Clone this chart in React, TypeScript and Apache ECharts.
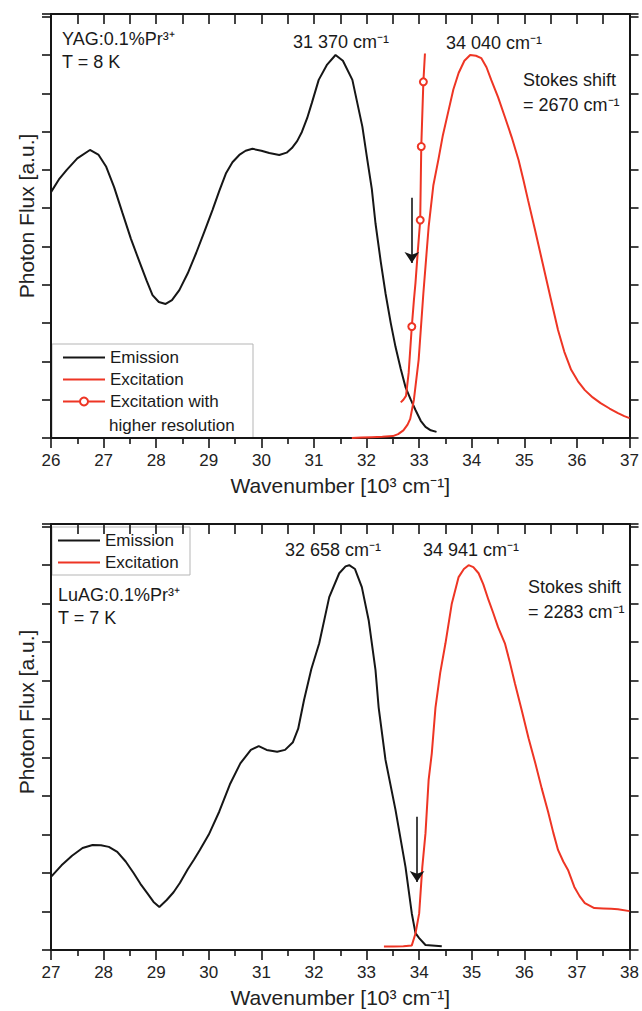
import React, { useEffect, useRef } from 'react';
import * as echarts from 'echarts';

const FONT = '"Liberation Sans", Arial, Helvetica, sans-serif';
const INK = '#161616';
const RED = '#ee3524';

// ---------- Top panel: YAG:0.1%Pr3+ (T = 8 K) ----------
const yagRange = [26, 37];
const yagEmission: number[][] = [
  [26.0, 6.42], [26.15, 6.75], [26.3, 7.0], [26.5, 7.3], [26.74, 7.52], [26.9, 7.4],
  [27.05, 7.08], [27.2, 6.55], [27.36, 5.87], [27.52, 5.2], [27.69, 4.57], [27.82, 4.1],
  [27.93, 3.73], [28.05, 3.55], [28.18, 3.5], [28.3, 3.6], [28.44, 3.86], [28.6, 4.3],
  [28.76, 4.83], [28.92, 5.4], [29.07, 5.95], [29.2, 6.45], [29.33, 6.92], [29.45, 7.2],
  [29.58, 7.39], [29.7, 7.5], [29.83, 7.55], [30.0, 7.5], [30.15, 7.44], [30.34, 7.39],
  [30.48, 7.45], [30.58, 7.57], [30.68, 7.75], [30.77, 7.99], [30.87, 8.35], [30.96, 8.75],
  [31.09, 9.35], [31.25, 9.75], [31.41, 10.0], [31.55, 9.85], [31.73, 9.35], [31.92, 8.13],
  [32.01, 7.3], [32.1, 6.5], [32.17, 5.6], [32.27, 4.6], [32.36, 3.78], [32.46, 3.0],
  [32.55, 2.38], [32.65, 1.8], [32.74, 1.33], [32.84, 1.0], [32.93, 0.73], [33.03, 0.45],
  [33.12, 0.29], [33.22, 0.2], [33.33, 0.16],
];
const yagExcitation: number[][] = [
  [31.72, 0.0], [31.9, 0.01], [32.1, 0.02], [32.3, 0.03], [32.5, 0.05], [32.6, 0.1],
  [32.7, 0.2], [32.78, 0.35], [32.83, 0.5], [32.9, 1.0], [32.99, 2.04], [33.08, 3.78],
  [33.18, 5.51], [33.27, 6.6], [33.37, 7.3], [33.45, 7.9], [33.56, 8.56], [33.65, 9.1],
  [33.75, 9.53], [33.86, 9.85], [33.97, 10.0], [34.08, 9.98], [34.18, 9.92], [34.28, 9.68],
  [34.37, 9.35], [34.5, 8.9], [34.63, 8.38], [34.76, 7.85], [34.89, 7.26], [34.98, 6.75],
  [35.07, 6.21], [35.2, 5.45], [35.35, 4.55], [35.5, 3.65], [35.64, 2.82], [35.76, 2.25],
  [35.89, 1.78], [36.02, 1.48], [36.15, 1.25], [36.3, 1.06], [36.45, 0.91], [36.62, 0.77],
  [36.78, 0.65], [36.9, 0.57], [37.0, 0.52],
];
// third value: 1 = point drawn with an open circle
const yagExcitationHiRes: number[][] = [
  [32.65, 0.93, 0], [32.7, 1.0, 0], [32.75, 1.1, 0], [32.8, 1.7, 0], [32.86, 2.91, 1],
  [32.9, 3.6, 0], [32.93, 4.05, 0], [32.97, 4.8, 0], [33.02, 5.69, 1], [33.04, 7.61, 1],
  [33.08, 9.3, 1], [33.11, 10.04, 0],
];
const yagArrow: number[][] = [[32.86, 6.27], [32.86, 4.57]];

// ---------- Bottom panel: LuAG:0.1%Pr3+ (T = 7 K) ----------
const luagRange = [27, 38];
const luagEmission: number[][] = [
  [27.0, 1.9], [27.2, 2.2], [27.4, 2.45], [27.6, 2.65], [27.79, 2.73], [27.95, 2.72],
  [28.1, 2.68], [28.26, 2.55], [28.42, 2.3], [28.57, 2.0], [28.7, 1.72], [28.83, 1.48],
  [28.95, 1.25], [29.06, 1.12], [29.2, 1.3], [29.33, 1.5], [29.45, 1.74], [29.6, 2.1],
  [29.72, 2.35], [29.83, 2.6], [30.0, 3.0], [30.2, 3.6], [30.4, 4.3], [30.6, 4.85],
  [30.8, 5.2], [30.95, 5.3], [31.1, 5.2], [31.3, 5.15], [31.45, 5.2], [31.6, 5.4],
  [31.7, 5.75], [31.81, 6.49], [31.95, 7.3], [32.1, 7.97], [32.29, 9.17], [32.48, 9.79],
  [32.6, 9.97], [32.67, 10.0], [32.78, 9.9], [32.91, 9.43], [33.04, 8.57], [33.17, 7.27],
  [33.23, 6.3], [33.36, 4.94], [33.55, 3.64], [33.74, 2.16], [33.86, 0.95], [33.93, 0.44],
  [34.0, 0.31], [34.12, 0.13], [34.43, 0.1],
];
const luagExcitation: number[][] = [
  [33.33, 0.09], [33.5, 0.09], [33.7, 0.1], [33.86, 0.12], [33.93, 0.43], [34.0, 0.95],
  [34.06, 2.16], [34.12, 3.03], [34.18, 4.42], [34.24, 5.11], [34.31, 6.3], [34.4, 7.2],
  [34.5, 7.97], [34.62, 9.0], [34.75, 9.69], [34.85, 9.9], [34.94, 10.0], [35.03, 9.95],
  [35.13, 9.79], [35.22, 9.5], [35.32, 9.09], [35.41, 8.75], [35.5, 8.39], [35.63, 7.97],
  [35.72, 7.5], [35.82, 6.93], [35.95, 6.23], [36.08, 5.5], [36.2, 4.9], [36.33, 4.2],
  [36.45, 3.6], [36.55, 3.05], [36.64, 2.6], [36.74, 2.3], [36.83, 2.08], [36.95, 1.64],
  [37.05, 1.4], [37.15, 1.22], [37.33, 1.09], [37.5, 1.08], [37.65, 1.07], [37.78, 1.06],
  [38.0, 1.01],
];
const luagArrow: number[][] = [[33.96, 3.46], [33.96, 1.77]];

const yMax = 11.07;
const xTitle = 'Wavenumber [10³ cm⁻¹]';
const yTitle = 'Photon Flux [a.u.]';
const legendNames = ['Emission', 'Excitation', 'Excitation with higher resolution'];
const LINE_ICON = 'path://M0,0H42V2.2H0Z';

function xAxes(grid: number, range: number[]) {
  const line = { show: true, onZero: false, lineStyle: { color: INK, width: 2 } };
  return [
    {
      type: 'value', gridIndex: grid, min: range[0], max: range[1], interval: 1, position: 'bottom',
      axisLine: line,
      axisTick: { show: true, inside: false, length: 10, lineStyle: { color: INK, width: 1.6 } },
      minorTick: { show: true, splitNumber: 2, length: 6, lineStyle: { color: INK, width: 1.6 } },
      axisLabel: { show: true, fontSize: 17, color: '#222', margin: 14, fontFamily: FONT },
      splitLine: { show: false }, minorSplitLine: { show: false },
      name: xTitle, nameLocation: 'middle', nameGap: 37,
      nameTextStyle: { fontSize: 21, color: '#222', fontFamily: FONT },
    },
    {
      type: 'value', gridIndex: grid, min: range[0], max: range[1], interval: 0.5, position: 'top',
      axisLine: line,
      axisTick: { show: true, inside: true, length: 10, lineStyle: { color: INK, width: 1.6 } },
      axisLabel: { show: false }, splitLine: { show: false },
    },
  ];
}

function yAxes(grid: number, shift: number) {
  const line = { show: true, onZero: false, lineStyle: { color: INK, width: 2 } };
  const tick = { show: true, inside: false, length: 9, lineStyle: { color: INK, width: 1.6 } };
  return [
    {
      type: 'value', gridIndex: grid, min: 0, max: yMax, interval: 1, position: 'left',
      axisLine: line, axisTick: tick, axisLabel: { show: false }, splitLine: { show: false },
      name: yTitle, nameLocation: 'middle', nameGap: 14, nameRotate: 90,
      nameTextStyle: { fontSize: 21, color: '#222', fontFamily: FONT, padding: [0, 0, 0, shift] },
    },
    {
      type: 'value', gridIndex: grid, min: 0, max: yMax, interval: 1, position: 'right',
      axisLine: line, axisTick: tick, axisLabel: { show: false }, splitLine: { show: false },
    },
  ];
}

function arrow(points: number[][]) {
  return {
    silent: true,
    symbol: ['none', 'arrow'],
    symbolSize: 11,
    label: { show: false },
    lineStyle: { color: INK, width: 1.6, type: 'solid' },
    data: [[{ coord: points[0] }, { coord: points[1] }]],
  };
}

function lineSeries(name: string, data: any[], color: string, ax: number, extra: any = {}) {
  return {
    type: 'line', name, xAxisIndex: ax, yAxisIndex: ax, data,
    showSymbol: false, symbol: 'none', smooth: false, clip: false,
    lineStyle: { color, width: 2 }, itemStyle: { color },
    emphasis: { disabled: true },
    ...extra,
  };
}

function txt(text: string, x: number, y: number, size = 18) {
  return {
    type: 'text', x, y, silent: true,
    style: { text, fill: '#1a1a1a', fontSize: size, fontFamily: FONT, verticalAlign: 'middle', align: 'left' },
  };
}

export default function App() {
  const ref = useRef<HTMLDivElement>(null);
  useEffect(() => {
    if (!ref.current) return;
    const chart = echarts.init(ref.current, undefined, { renderer: 'svg' });
    const hiResData = yagExcitationHiRes.map((p) => ({
      value: [p[0], p[1]],
      symbol: p[2] ? 'emptyCircle' : 'none',
    }));
    const legendText = { fontSize: 17, color: '#1a1a1a', fontFamily: FONT };
    const option: any = {
      animation: false,
      backgroundColor: '#ffffff',
      textStyle: { fontFamily: FONT },
      grid: [
        { left: 51, right: 10, top: 14, height: 424 },
        { left: 51, right: 10, top: 524, height: 426 },
      ],
      xAxis: [...xAxes(0, yagRange), ...xAxes(1, luagRange)],
      yAxis: [...yAxes(0, 20), ...yAxes(1, 50)],
      legend: [
        {
          left: 62, top: 349, orient: 'vertical', padding: 0, itemGap: 5,
          itemWidth: 42, itemHeight: 10, selectedMode: false,
          data: [
            { name: legendNames[0], icon: LINE_ICON },
            { name: legendNames[1], icon: LINE_ICON },
            { name: legendNames[2] },
          ],
          formatter: (n: string) => (n === legendNames[2] ? 'Excitation with' : n),
          textStyle: legendText,
        },
        {
          left: 58, top: 532, orient: 'vertical', padding: 0, itemGap: 5,
          itemWidth: 42, itemHeight: 10, selectedMode: false,
          data: [
            { name: legendNames[0], icon: LINE_ICON },
            { name: legendNames[1], icon: LINE_ICON },
          ],
          textStyle: legendText,
        },
      ],
      series: [
        lineSeries('Emission', yagEmission, INK, 0, { markLine: arrow(yagArrow), z: 3 }),
        lineSeries('Excitation', yagExcitation, RED, 0),
        lineSeries(legendNames[2], hiResData, RED, 0, {
          showSymbol: true, showAllSymbol: true, symbol: 'emptyCircle', symbolSize: 7,
          itemStyle: { color: RED, borderColor: RED, borderWidth: 1.5 },
        }),
        lineSeries('Emission', luagEmission, INK, 2, { markLine: arrow(luagArrow), z: 3 }),
        lineSeries('Excitation', luagExcitation, RED, 2),
      ],
      graphic: [
        { type: 'rect', silent: true, shape: { x: 52, y: 344, width: 201, height: 94 },
          style: { fill: 'none', stroke: '#b5b5b5', lineWidth: 1 } },
        { type: 'rect', silent: true, shape: { x: 52, y: 527, width: 138, height: 48 },
          style: { fill: 'none', stroke: '#b5b5b5', lineWidth: 1 } },
        txt('higher resolution', 109, 425, 17),
        txt('YAG:0.1%Pr³⁺', 62, 38.5),
        txt('T = 8 K', 62, 61.5),
        txt('31 370 cm⁻¹', 293, 42),
        txt('34 040 cm⁻¹', 446, 43),
        txt('Stokes shift', 523, 80),
        txt('= 2670 cm⁻¹', 523, 105),
        txt('LuAG:0.1%Pr³⁺', 58, 595),
        txt('T = 7 K', 58, 618),
        txt('32 658 cm⁻¹', 285, 550),
        txt('34 941 cm⁻¹', 423, 550),
        txt('Stokes shift', 528, 587),
        txt('= 2283 cm⁻¹', 528, 612),
      ],
    };
    chart.setOption(option);
    return () => chart.dispose();
  }, []);
  return <div ref={ref} style={{ position: 'absolute', left: 0, top: 0, width: 642, height: 1011 }} />;
}
